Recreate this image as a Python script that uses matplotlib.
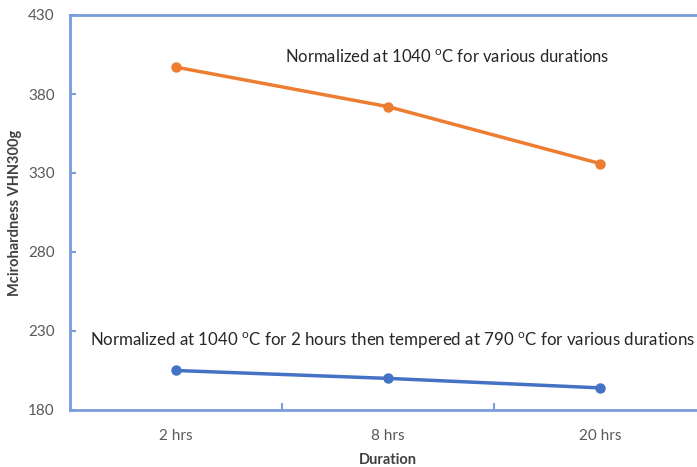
import matplotlib.pyplot as plt
import numpy as np

durations = ["2 hrs", "8 hrs", "20 hrs"]
normalized = [397, 372, 336]
tempered = [205, 200, 194]
y_ticks = [180, 230, 280, 330, 380, 430]

plt.rcParams["font.family"] = ["Lato", "DejaVu Sans"]
plt.rcParams["mathtext.fontset"] = "custom"
plt.rcParams["mathtext.rm"] = "Lato"

fig = plt.figure(figsize=(6.97, 4.67), dpi=100)
ax = fig.add_axes([70 / 697, 1 - 410 / 467, 636 / 697, 395 / 467])

x = np.arange(len(durations))
orange = "#ED7D31"
blue = "#4472C4"
ax.plot(x, normalized, color=orange, lw=2.5, marker="o", ms=6.5)
ax.plot(x, tempered, color=blue, lw=2.5, marker="o", ms=6.5)

ax.set_xlim(-0.5, len(durations) - 0.5)
ax.set_ylim(180, 430)
ax.set_yticks(y_ticks)
ax.set_xticks(x)
ax.set_xticklabels(durations)
ax.set_xticks(np.arange(0.5, len(durations) - 0.5), minor=True)

spine_color = "#7A9CDC"
for side in ["left", "bottom", "top"]:
    ax.spines[side].set_color(spine_color)
    ax.spines[side].set_linewidth(2)
ax.spines["right"].set_visible(False)

ax.tick_params(axis="y", direction="in", length=4, width=1.5, color=spine_color,
               labelsize=11, labelcolor="#595959", pad=11)
ax.tick_params(axis="x", which="major", length=0, labelsize=11,
               labelcolor="#595959", pad=14)
ax.tick_params(axis="x", which="minor", direction="in", length=5, width=1.5,
               color=spine_color)

ax.set_ylabel("Mcirohardness VHN300g", fontsize=10.5, color="#404040",
              fontweight="bold")
ax.yaxis.set_label_coords(-0.076, 0.5)
ax.set_xlabel("Duration", fontsize=10.5, color="#404040", fontweight="bold")
ax.xaxis.set_label_coords(0.5, -0.11)

deg = r"$^{\mathrm{o}}$C"
ax.text(1.28, 403, f"Normalized at 1040 {deg} for various durations",
        ha="center", va="center", fontsize=12, color="#262626")
ax.text(1.02, 224,
        f"Normalized at 1040 {deg} for 2 hours then tempered at 790 {deg} for various durations",
        ha="center", va="center", fontsize=12.2, color="#262626")

fig.savefig("out.png", dpi=100)
